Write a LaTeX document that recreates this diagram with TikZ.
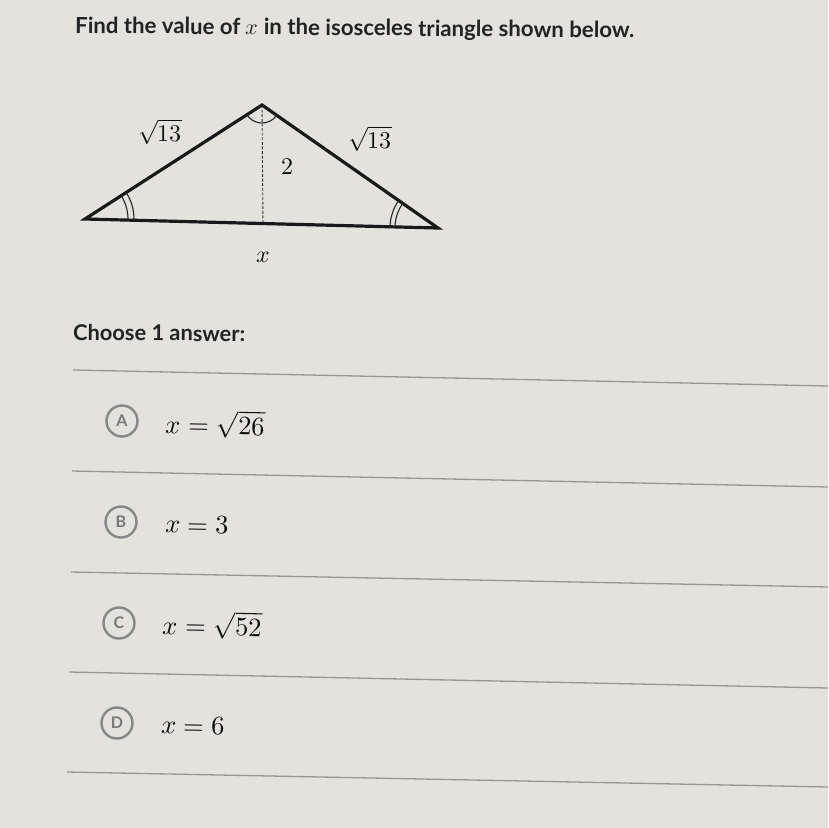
\documentclass[tikz,border=0pt]{standalone}
\usepackage{fontspec}
\setmainfont{Lato}
\usepackage{unicode-math}
\setmathfont{Latin Modern Math}
\begin{document}
\begin{tikzpicture}[x=1pt,y=-1pt,
  tri/.style={line width=3.2pt,line join=miter,black!90},
  marks/.style={line width=1.1pt,black!85},
  sep/.style={line width=1.3pt,color={rgb,255:red,150;green,150;blue,148}},
  choice/.style={circle,draw={rgb,255:red,135;green,135;blue,135},line width=2.4pt,minimum size=31pt,inner sep=0pt,
     text={rgb,255:red,120;green,120;blue,120},font=\fontsize{16}{16}\selectfont\bfseries},
  mathlbl/.style={font=\fontsize{24}{24}\selectfont,text=black!95},
  ans/.style={font=\fontsize{26.5}{26.5}\selectfont,text=black!95,anchor=west,rotate=-1.2,inner sep=0pt},
  heading/.style={font=\fontsize{22.2}{22.2}\selectfont\bfseries,text={rgb,255:red,35;green,35;blue,35},anchor=base west,inner sep=0pt,rotate=-0.5}]
\definecolor{bgc}{RGB}{228,226,221}
\fill[bgc] (0,0) rectangle (828,828);
\useasboundingbox (0,0) rectangle (828,828);

% title
\node[heading] (title) at (75,33) {Find the value of $x$ in the isosceles triangle shown below.};

% triangle
\coordinate (A) at (85,219);
\coordinate (T) at (262,105);
\coordinate (R) at (438,228);
\coordinate (F) at (263,224);
\draw[line width=0.9pt,dash pattern=on 3pt off 1.6pt,black!80] (T) -- (F);
\draw[tri] (A) -- (T) -- (R) -- cycle;
\draw[marks] (T) ++(35:18) arc[start angle=35,end angle=147,radius=18];
\draw[marks] (A) ++(1.5:43) arc[start angle=1.5,end angle=-32.8,radius=43];
\draw[marks] (A) ++(1.5:49) arc[start angle=1.5,end angle=-32.8,radius=49];
\draw[marks] (R) ++(181.5:43) arc[start angle=181.5,end angle=215,radius=43];
\draw[marks] (R) ++(181.5:48) arc[start angle=181.5,end angle=215,radius=48];

\node[mathlbl] (lL) at (160,132) {$\sqrt{13}$};
\node[mathlbl] (lR) at (370,139) {$\sqrt{13}$};
\node[mathlbl] (lH) at (287,167) {$2$};
\node[mathlbl] (lB) at (263,257) {$x$};

% choose
\node[heading,font=\fontsize{21.8}{21.8}\selectfont\bfseries] (choose) at (73,340) {Choose 1 answer:};

% separators
\coordinate (s1a) at (73,370);  \coordinate (s1b) at (828,386);
\coordinate (s2a) at (72,471);  \coordinate (s2b) at (828,487);
\coordinate (s3a) at (71,572);  \coordinate (s3b) at (828,587);
\coordinate (s4a) at (69,672);  \coordinate (s4b) at (828,688);
\coordinate (s5a) at (67,772);  \coordinate (s5b) at (828,787);
\foreach \i in {1,...,5} {\draw[sep] (s\i a) -- (s\i b);}

% choices
\node[choice] (cA) at (122,421) {A};
\node[choice] (cB) at (121,522) {B};
\node[choice] (cC) at (119,623) {C};
\node[choice] (cD) at (117,723) {D};
\node[ans] (tA) at (166,423) {$x=\sqrt{26}$};
\node[ans] (tB) at (165,524) {$x=3$};
\node[ans] (tC) at (163,624) {$x=\sqrt{52}$};
\node[ans] (tD) at (161,725) {$x=6$};
\end{tikzpicture}
\end{document}
